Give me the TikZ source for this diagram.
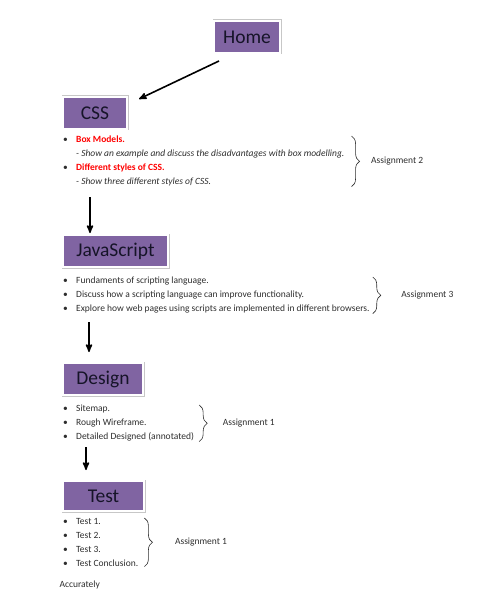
\documentclass[tikz,border=0pt]{standalone}
\usepackage{fontspec}
\setmainfont{Carlito}
\usetikzlibrary{arrows,calc,positioning,shadows,decorations.pathreplacing}
\definecolor{boxpurple}{RGB}{128,100,162}
\definecolor{boxtext}{RGB}{22,20,40}
\definecolor{txtgray}{RGB}{45,45,45}
\newcommand{\bul}{\makebox[13pt][l]{\textbullet}}
\newcommand{\subln}{\hspace*{13pt}}

\begin{document}
\begin{tikzpicture}[x=1pt,y=-1pt,>=stealth',
	box/.style={draw=white,line width=2pt,fill=boxpurple,minimum height=32pt,inner sep=0pt,
		font=\fontsize{19.5}{24}\selectfont,text=boxtext,
		preaction={draw=black!22,line width=3pt},
		drop shadow={shadow xshift=1pt,shadow yshift=-1pt,opacity=.35}},
	list/.style={align=left,inner sep=0pt,font=\fontsize{9.5}{14}\selectfont,text=txtgray},
	arr/.style={->,line width=1.6pt},
	brace/.style={decorate,decoration={brace,amplitude=8pt},line width=.6pt,txtgray},
	asg/.style={font=\fontsize{9.5}{11}\selectfont,text=txtgray}]
	\useasboundingbox (0,0) rectangle (500,596);
	% boxes
	\node[box,minimum width=66pt,anchor=north west] (home) at (213,20) {Home};
	\node[box,minimum width=64pt,anchor=north west] (css) at (62,96) {CSS};
	\node[box,minimum width=105pt,anchor=north west] (js) at (62,234) {JavaScript};
	\node[box,minimum width=80pt,anchor=north west] (design) at (62,362) {Design};
	\node[box,minimum width=81pt,minimum height=30pt,anchor=north west] (test) at (62,480) {Test};
	% lists
	\node[list,below right=6pt and 1pt of css.south west] (cssl) {%
		\bul{\color{red}\bfseries Box Models.}\\
		\subln\textit{- Show an example and discuss the disadvantages with box modelling.}\\
		\bul{\color{red}\bfseries Different styles of CSS.}\\
		\subln\textit{- Show three different styles of CSS.}};
	\node[list,below right=9pt and 1pt of js.south west] (jsl) {%
		\bul Fundaments of scripting language.\\
		\bul Discuss how a scripting language can improve functionality.\\
		\bul Explore how web pages using scripts are implemented in different browsers.};
	\node[list,below right=9pt and 1pt of design.south west] (designl) {%
		\bul Sitemap.\\
		\bul Rough Wireframe.\\
		\bul Detailed Designed (annotated)};
	\node[list,below right=6pt and 1pt of test.south west] (testl) {%
		\bul Test 1.\\
		\bul Test 2.\\
		\bul Test 3.\\
		\bul Test Conclusion.};
	\node[asg,anchor=west] (acc) at (56,585) {Accurately};
	% braces
	\draw[brace] ([xshift=7pt]cssl.north east) -- ([xshift=7pt]cssl.south east)
		node[midway,right=16pt,asg] (a2) {Assignment 2};
	\draw[brace] ([xshift=3pt]jsl.north east) -- ([xshift=3pt]jsl.south east)
		node[midway,right=25pt,asg] (a3) {Assignment 3};
	\draw[brace] ([xshift=5pt]designl.north east) -- ([xshift=5pt]designl.south east)
		node[midway,right=20pt,asg] (a1d) {Assignment 1};
	\draw[brace] ([xshift=6pt]testl.north east) -- ([xshift=6pt]testl.south east)
		node[midway,right=27pt,asg] (a1t) {Assignment 1};
	% arrows
	\draw[arr] ([xshift=6pt,yshift=-7pt]home.south west) -- ([xshift=11pt,yshift=-3pt]css.north east);
	\draw[arr] ([xshift=28pt,yshift=-67pt]css.south west) -- ([xshift=28pt,yshift=1pt]js.north west);
	\draw[arr] ([xshift=27pt,yshift=-54pt]js.south west) -- ([xshift=27pt,yshift=10pt]design.north west);
	\draw[arr] ([xshift=24pt,yshift=-51pt]design.south west) -- ([xshift=24pt,yshift=10pt]test.north west);
\end{tikzpicture}
\end{document}
